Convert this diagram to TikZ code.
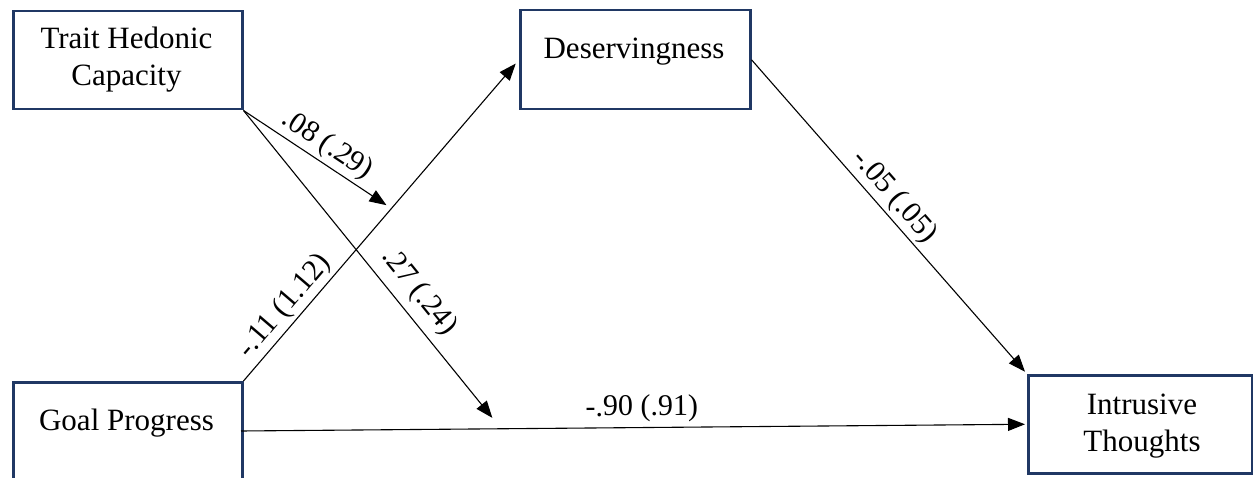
\documentclass[tikz,border=0pt]{standalone}
\usepackage{fontspec}
\setmainfont{Liberation Serif}
\usetikzlibrary{arrows.meta}
\definecolor{navy}{HTML}{203864}
\begin{document}
\begin{tikzpicture}[x=1pt,y=-1pt,
  box/.style={draw=navy, line width=2.5pt, rectangle, inner sep=0pt, anchor=north west},
  txt/.style={font=\fontsize{31}{37}\selectfont, align=center, inner sep=0pt},
  arr/.style={line width=1.1pt, -{Triangle[length=17pt,width=13pt]}},
  lab/.style={font=\fontsize{30}{36}\selectfont, sloped, above, inner sep=3pt}]
\useasboundingbox (0,0) rectangle (1253,478);
\clip (0,0) rectangle (1253,478);
% boxes
\node[box, minimum width=229pt, minimum height=98pt] (thc) at (12,10) {};
\node[txt] (thct) at (126.5,60) {Trait Hedonic\\Capacity};
\node[box, minimum width=230pt, minimum height=99pt] (des) at (519,9) {};
\node[txt] (dest) at (634,52) {Deservingness};
\node[box, minimum width=229pt, minimum height=130pt] (goal) at (12,381) {};
\node[txt] (goalt) at (126.5,423) {Goal Progress};
\node[box, minimum width=224pt, minimum height=98pt] (int) at (1027,374) {};
\node[txt] (intt) at (1142,426) {Intrusive\\Thoughts};
\coordinate (gout) at (241,431);
% helper points on paths
\path (goal.north east) -- coordinate[pos=0.537] (mod1) (des.west);
\path (gout) -- coordinate[pos=0.331] (mod2) (int.west);
% connectors
\draw[arr, shorten >=5pt] (goal.north east) -- node[lab, pos=0.197] {-.11 (1.12)} (des.west);
\draw[arr, shorten >=6pt] (thc.south east) -- node[lab, pos=0.5] {.08 (.29)} (mod1);
\draw[arr, shorten >=14pt] (thc.south east) -- node[lab, pos=0.614, inner sep=8pt] {.27 (.24)} (mod2);
\draw[arr, shorten >=3pt] (des.east) -- node[lab, pos=0.472] {-.05 (.05)} (int.north west);
\draw[arr, shorten >=2pt] (gout) -- node[lab, pos=0.51, inner sep=5pt] {-.90 (.91)} (int.west);
\end{tikzpicture}
\end{document}
